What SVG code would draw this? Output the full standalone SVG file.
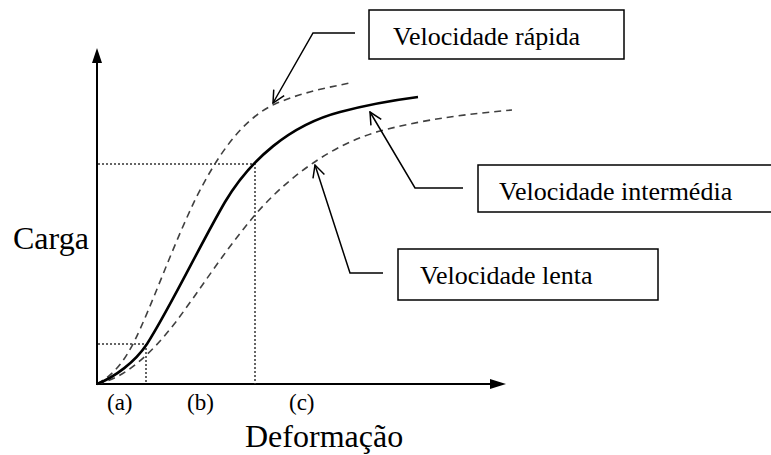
<svg xmlns="http://www.w3.org/2000/svg" width="771" height="455" viewBox="0 0 771 455">
<defs>
<style>
text{font-family:"Liberation Serif","DejaVu Serif","Noto Serif",serif;fill:#000}
.box{fill:#fff;stroke:#000;stroke-width:1.5}
.axis{fill:none;stroke:#000;stroke-width:2}
.solid{fill:none;stroke:#000;stroke-width:2.6}
.dash{fill:none;stroke:#404040;stroke-width:1.6;stroke-dasharray:7 5}
.dot{fill:none;stroke:#333;stroke-width:1.5;stroke-dasharray:2 2}
.call{fill:none;stroke:#000;stroke-width:1.5}
</style>
<marker id="open" viewBox="0 0 14 14" refX="13" refY="7" markerWidth="14" markerHeight="14" markerUnits="userSpaceOnUse" orient="auto">
<path d="M1,1 L13,7 L1,13" fill="none" stroke="#000" stroke-width="1.5"/>
</marker>
</defs>
<rect width="771" height="455" fill="#fff"/>
<g id="axes">
<line class="axis" x1="97" y1="385" x2="97" y2="60"/>
<polygon points="97,48 92,63 102,63" fill="#000"/>
<line class="axis" x1="96" y1="384" x2="494" y2="384"/>
<polygon points="506,384 490,379 490,389" fill="#000"/>
<text x="13" y="249" font-size="32" font-family="Liberation Serif, serif">Carga</text>
<text x="245" y="447" font-size="32" font-family="Liberation Serif, serif">Deformação</text>
<text x="107" y="410" font-size="23" font-family="Liberation Serif, serif">(a)</text>
<text x="187" y="410" font-size="23" font-family="Liberation Serif, serif">(b)</text>
<text x="289" y="410" font-size="23" font-family="Liberation Serif, serif">(c)</text>
</g>
<g id="guides">
<polyline class="dot" points="98,164 255,164 255,384"/>
<polyline class="dot" points="98,344 146,344 146,384"/>
</g>
<g id="curves">
<path class="dash" d="M97,384 C115,374 125,360 135,340 C152,305 172,248 195,200 C215,160 240,120 275,104 C300,93 325,88 350,83"/>
<path class="dash" d="M97,384 C125,378 150,355 175,323 C200,290 225,250 255,215 C285,180 330,145 380,131 C430,118 470,114 512,110"/>
<path class="solid" d="M97,384 C115,377 135,362 147,344 C170,308 200,245 225,202 C250,160 290,125 340,112 C370,104 395,100 418,97"/>
</g>
<g id="connectors">
<polyline class="call" points="355,33 313,33 273,103" marker-end="url(#open)"/>
<polyline class="call" points="463,188 415,188 370,112" marker-end="url(#open)"/>
<polyline class="call" points="383,273 350,273 315,165" marker-end="url(#open)"/>
</g>
<g id="node-rapida">
<rect class="box" x="369" y="10" width="255" height="49"/>
<text x="393" y="45" font-size="26" font-family="Liberation Serif, serif">Velocidade rápida</text>
</g>
<g id="node-intermedia">
<rect class="box" x="478" y="165" width="300" height="47"/>
<text x="499" y="200" font-size="26" font-family="Liberation Serif, serif">Velocidade intermédia</text>
</g>
<g id="node-lenta">
<rect class="box" x="398" y="249" width="260" height="51"/>
<text x="420" y="284" font-size="26" font-family="Liberation Serif, serif">Velocidade lenta</text>
</g>
</svg>
